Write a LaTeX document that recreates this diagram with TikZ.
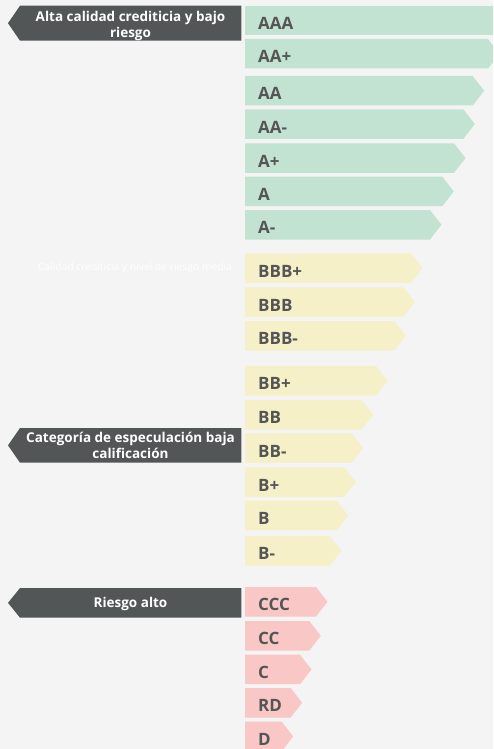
\documentclass[tikz,border=0pt]{standalone}
\usepackage{fontspec}
\setmainfont{Open Sans}
\definecolor{bgc}{HTML}{F4F4F4}
\definecolor{darkbox}{HTML}{525657}
\definecolor{greenbar}{HTML}{C3E3D2}
\definecolor{yellowbar}{HTML}{F5F0C8}
\definecolor{pinkbar}{HTML}{F9C8C6}
\definecolor{bartext}{HTML}{555555}
\tikzset{
  barlabel/.style={anchor=base west, inner sep=0pt, text=bartext, font=\fontsize{17}{19}\selectfont\bfseries},
  boxlabel/.style={align=center, inner sep=0pt, text=white, font=\fontsize{13.5}{16}\selectfont\bfseries},
  sidenote/.style={anchor=west, inner sep=0pt, text=white, font=\fontsize{10.3}{12}\selectfont}
}
% #1 name, #2 top y, #3 corner x, #4 colour, #5 label
\newcommand{\ratingbar}[5]{%
  \fill[#4] (245,#2) -- (#3,#2) -- ({#3+11.5},{#2+14.75}) -- (#3,{#2+29.5}) -- (245,{#2+29.5}) -- cycle;
  \node[barlabel] (#1) at (258,{#2+23.7}) {#5};
}
% #1 name, #2 top y, #3 bottom y, #4 text, #5 text shift
\newcommand{\sidebox}[5]{%
  \fill[darkbox] (241.3,#2) -- (20,#2) -- (8,{(#2+#3)/2}) -- (20,#3) -- (241.3,#3) -- cycle;
  \node[boxlabel] (#1) at (130.5,{(#2+#3)/2+#5}) {#4};
}
\begin{document}
\begin{tikzpicture}[x=1pt,y=-1pt]
\fill[bgc] (0,0) rectangle (493,749);
\useasboundingbox (0,0) rectangle (493,749);
\begin{scope}
\clip (0,0) rectangle (493,749);
\fill[greenbar] (245,5.7) rectangle (500,35.2);
\node[barlabel] (aaa) at (258,29.4) {AAA};
\ratingbar{aaplus}{39}{488}{greenbar}{AA+}
\ratingbar{aa}{76}{472.7}{greenbar}{AA}
\ratingbar{aaminus}{109.3}{463.3}{greenbar}{AA-}
\ratingbar{aplus}{143.3}{454}{greenbar}{A+}
\ratingbar{a}{176.7}{442.3}{greenbar}{A}
\ratingbar{aminus}{210}{430}{greenbar}{A-}
\ratingbar{bbbplus}{253.3}{411}{yellowbar}{BBB+}
\ratingbar{bbb}{287.3}{403.3}{yellowbar}{BBB}
\ratingbar{bbbminus}{321}{394.3}{yellowbar}{BBB-}
\ratingbar{bbplus}{366}{376}{yellowbar}{BB+}
\ratingbar{bb}{400}{361.7}{yellowbar}{BB}
\ratingbar{bbminus}{433.3}{351.7}{yellowbar}{BB-}
\ratingbar{bplus}{467.3}{344.3}{yellowbar}{B+}
\ratingbar{b}{500.7}{336.7}{yellowbar}{B}
\ratingbar{bminus}{536}{330}{yellowbar}{B-}
\ratingbar{ccc}{587}{316}{pinkbar}{CCC}
\ratingbar{cc}{621}{309.3}{pinkbar}{CC}
\ratingbar{c}{654.7}{300}{pinkbar}{C}
\ratingbar{rd}{688}{290.7}{pinkbar}{RD}
\ratingbar{d}{721.7}{281.7}{pinkbar}{D}
\end{scope}
\sidebox{alta}{5.7}{40.7}{Alta calidad crediticia y bajo\\riesgo}{2.5}
\sidebox{especulacion}{428}{462.7}{Categoría de especulación baja\\calificación}{0.5}
\sidebox{riesgo}{588}{617.7}{Riesgo alto}{1}
\node[sidenote] (media) at (37.7,268.3) {Calidad crediticia y nivel de riesgo media};
\end{tikzpicture}
\end{document}
